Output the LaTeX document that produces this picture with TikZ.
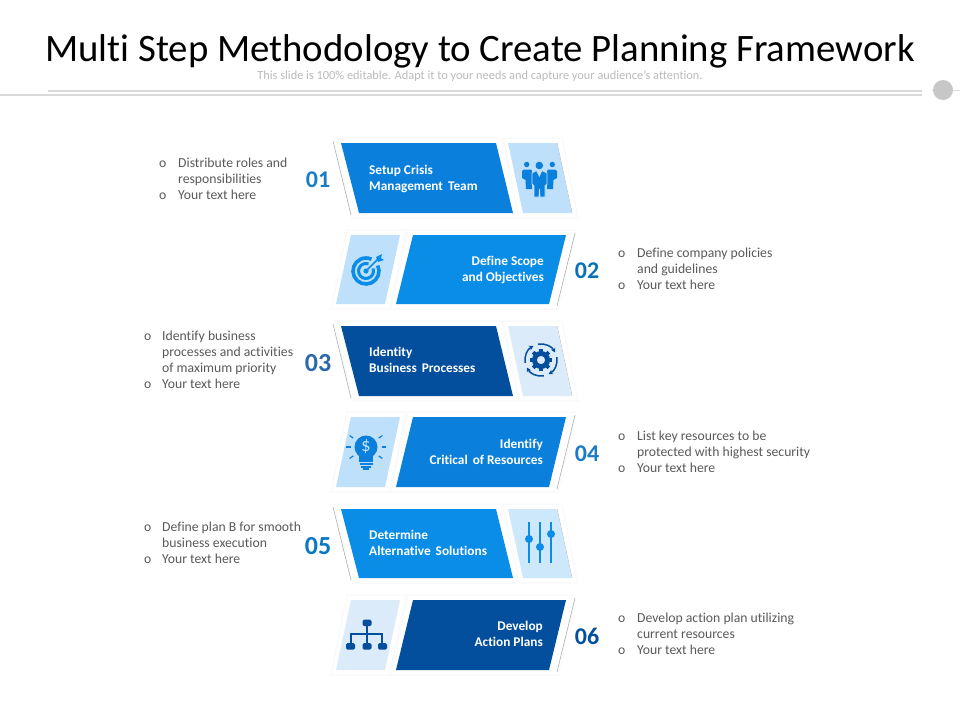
\documentclass[tikz,border=0pt]{standalone}
\usepackage{fontspec}
\usepackage{xcolor}
\setmainfont{Carlito}[Ligatures=NoCommon]
\usetikzlibrary{positioning, arrows.meta}

\definecolor{bluea}{HTML}{0A7FDB}
\definecolor{blueb}{HTML}{0A8DE6}
\definecolor{bluec}{HTML}{044E9E}
\definecolor{paleblue}{HTML}{BFE0FA}
\definecolor{paleblueb}{HTML}{CDE7FB}
\definecolor{palegrey}{HTML}{DCEBFA}
\definecolor{numa}{HTML}{1A7CC4}
\definecolor{textgrey}{HTML}{595959}

\newcommand{\wsp}{\hspace{5pt}}

\tikzset{
    plate/.style={fill=white, draw=black!2, line width=1.5pt},
    edge/.style={draw=black!30, line width=0.6pt},
    boxtext/.style={text=white, font=\fontsize{13.3}{16}\selectfont\bfseries, inner sep=0pt},
    numtext/.style={font=\fontsize{24}{24}\selectfont\bfseries, inner sep=0pt},
    bignum/.style={font=\fontsize{26}{26}\selectfont\bfseries, inner sep=0pt},
    notes/.style={text=textgrey, anchor=west, inner sep=0pt, font=\fontsize{13.7}{16}\selectfont},
}

\begin{document}
\begin{tikzpicture}[x=1pt, y=-1pt]
    \useasboundingbox (0, 0) rectangle (960, 720);

    \node[font=\fontsize{38.8}{42}\selectfont, inner sep=0pt] (title) at (480, 51) {Multi Step Methodology to Create Planning Framework};
    \node[font=\fontsize{12.35}{14}\selectfont, text=black!27, inner sep=0pt] (subtitle) at (480, 76) {This slide is 100\% editable. Adapt it to your needs and capture your audience's attention.};

    \fill[black!15] (48, 90) rectangle (922, 92);
    \fill[black!15] (0, 93.5) rectangle (922, 95.5);
    \fill[black!15] (932, 89.5) rectangle (960, 91);
    \node[circle, fill=black!22, minimum size=20pt, inner sep=0pt] (knob) at (943, 90) {};

    % row 1
    \draw[plate] (334, 138) -- (502, 138) -- (520, 218) -- (352, 218) -- cycle;
    \draw[plate] (503, 138) -- (562, 138) -- (578, 218) -- (519, 218) -- cycle;
    \draw[edge] (333, 141) -- (351, 215);
    \draw[edge] (557, 143) -- (572, 213);
    \fill[bluea] (341, 143) -- (496, 143) -- (513, 213) -- (359, 213) -- cycle;
    \fill[paleblue] (508, 143) -- (557, 143) -- (572, 213) -- (523, 213) -- cycle;
    \node[boxtext, align=left, anchor=west] (box1) at (369, 179) {Setup Crisis\\Management\wsp Team};
    \node[numtext, text=numa] (num1) at (318, 180) {01};
    \node[notes] (notes1) at (159, 180) {\begin{tabular}{@{}p{16pt}@{\hspace{3pt}}l@{}}o & Distribute roles and\\ & responsibilities\\o & Your text here\end{tabular}};
    % people
    \fill[bluea] (539.3, 165.5) circle[radius=3.8pt];
    \fill[bluea] (526.7, 164.5) circle[radius=2.7pt];
    \fill[bluea] (552.3, 164.5) circle[radius=2.7pt];
    \fill[bluea] (522, 171) -- (524, 169.5) -- (531, 169.5) -- (532, 171) -- (532, 189) -- (526, 189) -- (525.5, 180) -- (522, 178) -- cycle;
    \fill[bluea] (557, 171) -- (555, 169.5) -- (548, 169.5) -- (547, 171) -- (547, 189) -- (553, 189) -- (553.5, 180) -- (557, 178) -- cycle;
    \filldraw[bluea, draw=paleblue, line width=0.8pt] (532, 173) -- (536.5, 170.5) -- (539.3, 176) -- (542, 170.5) -- (547, 173) -- (547, 184) -- (545, 186) -- (545, 197) -- (540, 197) -- (539.5, 189) -- (539, 197) -- (534, 197) -- (534, 186) -- (532, 184) -- cycle;

    % row 2
    \draw[plate] (347, 230) -- (406, 230) -- (390, 309) -- (331, 309) -- cycle;
    \draw[plate] (408, 230) -- (576, 230) -- (558, 309) -- (390, 309) -- cycle;
    \draw[edge] (575, 233) -- (557, 306);
    \fill[paleblue] (351, 235) -- (400, 235) -- (385, 304) -- (336, 304) -- cycle;
    \fill[blueb] (413, 235) -- (566, 235) -- (549, 304) -- (396, 304) -- cycle;
    \node[boxtext, align=right, anchor=east] (box2) at (544, 270) {Define Scope\\and Objectives};
    \node[numtext, text=blueb!80!black] (num2) at (587, 271) {02};
    \node[notes] (notes2) at (618, 270) {\begin{tabular}{@{}p{16pt}@{\hspace{3pt}}l@{}}o & Define company policies\\ & and guidelines\\o & Your text here\end{tabular}};
    % target
    \draw[blueb, line width=3.6pt] (366, 271) ++(25:13pt) arc[start angle=25, end angle=-295, radius=13pt];
    \draw[blueb, line width=3pt] (366, 271) ++(20:7.5pt) arc[start angle=20, end angle=-290, radius=7.5pt];
    \fill[blueb] (366, 271) circle[radius=2.6pt];
    \draw[blueb, line width=1.5pt] (366, 271) -- (378, 259);
    \fill[blueb] (376, 257) -- (382, 254) -- (381, 258) -- (384, 260) -- (378, 262) -- cycle;

    % row 3
    \draw[plate] (334, 321) -- (502, 321) -- (520, 401) -- (352, 401) -- cycle;
    \draw[plate] (503, 321) -- (562, 321) -- (578, 401) -- (519, 401) -- cycle;
    \draw[edge] (333, 324) -- (351, 398);
    \draw[edge] (557, 326) -- (572, 396);
    \fill[bluec] (341, 326) -- (496, 326) -- (513, 396) -- (359, 396) -- cycle;
    \fill[palegrey] (508, 326) -- (557, 326) -- (572, 396) -- (523, 396) -- cycle;
    \node[boxtext, align=left, anchor=west] (box3) at (369, 360) {Identity\\Business\wsp Processes};
    \node[bignum, text=bluec!85!white] (num3) at (318, 363) {03};
    \node[notes] (notes3) at (144, 361) {\begin{tabular}{@{}p{15pt}@{\hspace{3pt}}l@{}}o & Identify business\\ & processes and activities\\ & of maximum priority\\o & Your text here\end{tabular}};
    % gear
    \foreach \ang in {0, 45, ..., 315} {
        \draw[bluec, line width=3.6pt] (541, 360) ++(\ang:6pt) -- ++(\ang:5pt);
    }
    \fill[bluec, even odd rule] (541, 360) circle[radius=9pt] circle[radius=4.2pt];
    \foreach \ang in {10, 100, 190, 280} {
        \draw[bluec, line width=1.5pt, -{Stealth[length=4.5pt, width=5pt]}] (541, 360) ++(\ang:16pt) arc[start angle=\ang, end angle=\ang-72, radius=16pt];
    }

    % row 4
    \draw[plate] (347, 412) -- (406, 412) -- (390, 492) -- (331, 492) -- cycle;
    \draw[plate] (408, 412) -- (576, 412) -- (558, 492) -- (390, 492) -- cycle;
    \draw[edge] (575, 415) -- (557, 489);
    \fill[paleblue] (351, 417) -- (400, 417) -- (385, 487) -- (336, 487) -- cycle;
    \fill[bluea] (413, 417) -- (566, 417) -- (549, 487) -- (396, 487) -- cycle;
    \node[boxtext, align=right, anchor=east] (box4) at (543, 452) {Identify\\Critical\wsp of Resources};
    \node[numtext, text=numa] (num4) at (587, 454) {04};
    \node[notes] (notes4) at (618, 453) {\begin{tabular}{@{}p{16pt}@{\hspace{3pt}}l@{}}o & List key resources to be\\ & protected with highest security\\o & Your text here\end{tabular}};
    % bulb
    \fill[bluea] (366, 447) circle[radius=11.5pt];
    \fill[bluea] (359, 453) rectangle (373, 462);
    \fill[bluea] (359.5, 463) rectangle (372.5, 465);
    \fill[bluea] (361, 466) rectangle (371, 468);
    \fill[bluea] (363, 468) rectangle (369, 469.5);
    \node[text=paleblue, font=\fontsize{19}{19}\selectfont, inner sep=0pt] (dollar) at (366, 447) {\$};
    \foreach \ang in {0, 35, 145, 180, 215, 325} {
        \draw[bluea, line width=1.2pt] (366, 447) ++(\ang:15.5pt) -- ++(\ang:4.5pt);
    }

    % row 5
    \draw[plate] (334, 504) -- (502, 504) -- (520, 583) -- (352, 583) -- cycle;
    \draw[plate] (503, 504) -- (562, 504) -- (578, 583) -- (519, 583) -- cycle;
    \draw[edge] (333, 507) -- (351, 580);
    \draw[edge] (557, 509) -- (572, 578);
    \fill[blueb] (341, 509) -- (496, 509) -- (513, 578) -- (359, 578) -- cycle;
    \fill[paleblueb] (508, 509) -- (557, 509) -- (572, 578) -- (523, 578) -- cycle;
    \node[boxtext, align=left, anchor=west] (box5) at (369, 543) {Determine\\Alternative\wsp Solutions};
    \node[bignum, text=blueb!85!black] (num5) at (318, 546) {05};
    \node[notes] (notes5) at (144, 544) {\begin{tabular}{@{}p{15pt}@{\hspace{3pt}}l@{}}o & Define plan B for smooth\\ & business execution\\o & Your text here\end{tabular}};
    % sliders
    \draw[blueb, line width=1.3pt] (529, 522) -- (529, 563);
    \draw[blueb, line width=1.3pt] (540, 522) -- (540, 563);
    \draw[blueb, line width=1.3pt] (551, 522) -- (551, 563);
    \fill[blueb] (529, 539) circle[radius=4pt];
    \fill[blueb] (540, 547) circle[radius=4pt];
    \fill[blueb] (551, 534) circle[radius=4pt];

    % row 6
    \draw[plate] (347, 595) -- (406, 595) -- (390, 675) -- (331, 675) -- cycle;
    \draw[plate] (408, 595) -- (576, 595) -- (558, 675) -- (390, 675) -- cycle;
    \draw[edge] (575, 598) -- (557, 672);
    \fill[palegrey] (351, 600) -- (400, 600) -- (385, 670) -- (336, 670) -- cycle;
    \fill[bluec] (413, 600) -- (566, 600) -- (549, 670) -- (396, 670) -- cycle;
    \node[boxtext, align=right, anchor=east] (box6) at (543, 634) {Develop\\Action Plans};
    \node[numtext, text=bluec] (num6) at (587, 636) {06};
    \node[notes] (notes6) at (618, 635) {\begin{tabular}{@{}p{16pt}@{\hspace{3pt}}l@{}}o & Develop action plan utilizing\\ & current resources\\o & Your text here\end{tabular}};
    % org chart
    \draw[bluec, line width=1.4pt] (367, 623) -- (367, 646);
    \draw[bluec, line width=1.4pt] (351, 646) -- (351, 634) -- (382, 634) -- (382, 646);
    \fill[bluec, rounded corners=1.5pt] (362.5, 619.5) rectangle (371.5, 626);
    \fill[bluec, rounded corners=1.5pt] (346, 643) rectangle (355, 649.5);
    \fill[bluec, rounded corners=1.5pt] (362.5, 643) rectangle (371.5, 649.5);
    \fill[bluec, rounded corners=1.5pt] (378, 643) rectangle (387, 649.5);
\end{tikzpicture}
\end{document}
